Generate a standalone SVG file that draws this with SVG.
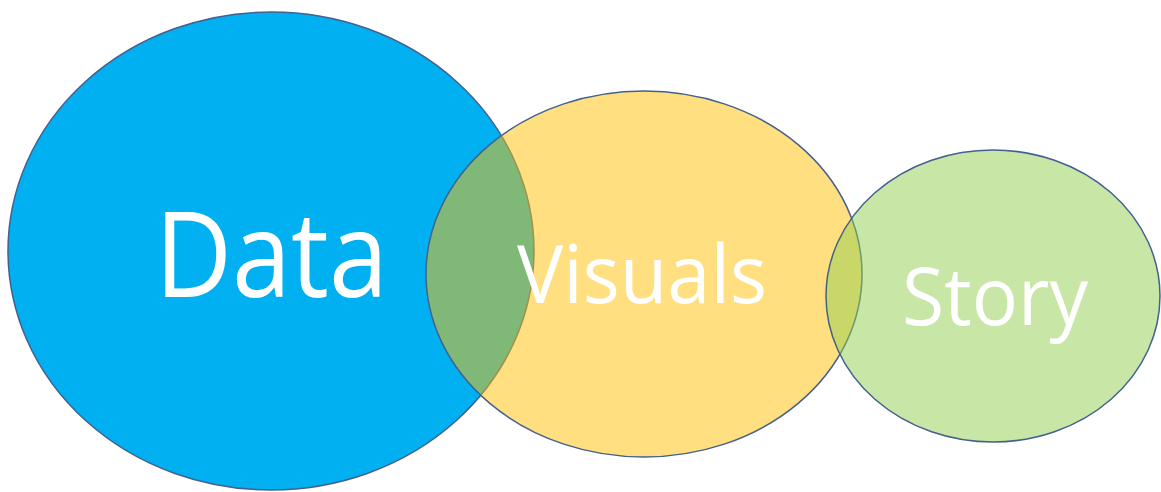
<svg xmlns="http://www.w3.org/2000/svg" width="1161" height="492" viewBox="0 0 1161 492">
<style>
.shape{stroke:#44608f;stroke-width:1.5}
.lbl{fill:#ffffff;font-family:"Open Sans","Lato","Liberation Sans",sans-serif}
</style>
<rect width="1161" height="492" fill="#ffffff"/>
<g id="data">
<ellipse class="shape" cx="271" cy="251" rx="263" ry="239" fill="#00b0f0"/>
</g>
<g id="visuals">
<ellipse class="shape" cx="644" cy="274" rx="218" ry="183" fill="#ffc000" fill-opacity="0.5"/>
</g>
<g id="story">
<ellipse class="shape" cx="993" cy="296" rx="167" ry="146" fill="#92d050" fill-opacity="0.5"/>
</g>
<g id="labels">
<text class="lbl" x="155" y="297" font-size="119" textLength="233" lengthAdjust="spacingAndGlyphs">Data</text>
<text class="lbl" x="517" y="303" font-size="81" textLength="250" lengthAdjust="spacingAndGlyphs">Visuals</text>
<text class="lbl" x="902" y="325" font-size="81" textLength="186" lengthAdjust="spacingAndGlyphs">Story</text>
</g>
</svg>
